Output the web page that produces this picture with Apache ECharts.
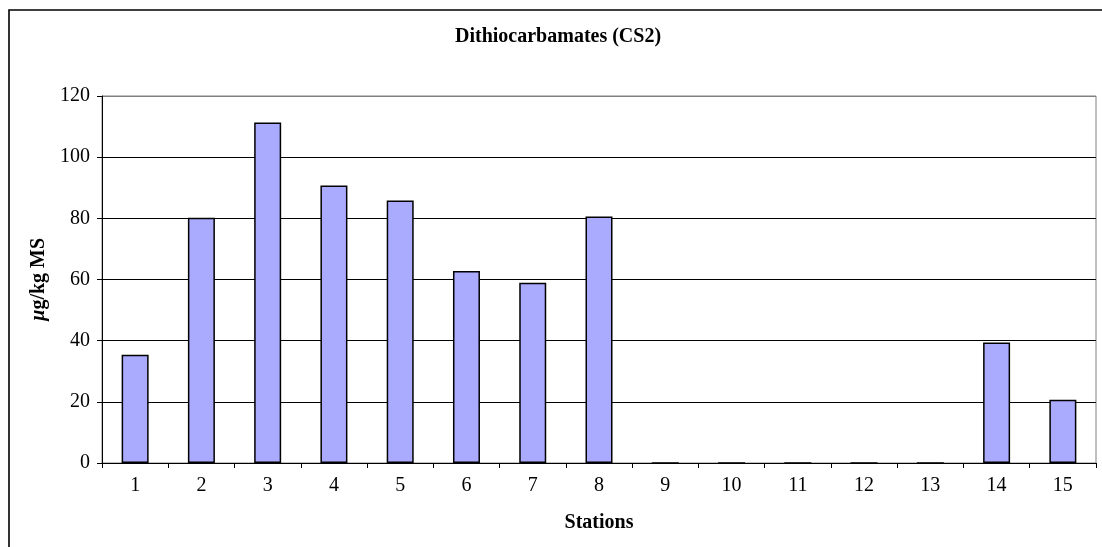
<!DOCTYPE html>
<html>
<head>
<meta charset="utf-8">
<title>Dithiocarbamates (CS2)</title>
<script src="https://cdn.jsdelivr.net/npm/echarts@6/dist/echarts.min.js"></script>
<style>
  html, body { margin: 0; padding: 0; background: #fff; }
  #chart { width: 1102px; height: 547px; }
</style>
</head>
<body>
<div id="chart"></div>
<script>
// Stations along the x axis
const stations = ['1', '2', '3', '4', '5', '6', '7', '8', '9', '10', '11', '12', '13', '14', '15'];
// Dithiocarbamates measured as CS2, µg/kg dry matter
const cs2Values = [35.4, 80.2, 111.3, 90.7, 85.8, 62.8, 58.9, 80.6, 0, 0, 0, 0, 0, 39.4, 20.7];
// Value axis range
const yMin = 0;
const yMax = 120;
const yStep = 20;

const serif = 'Liberation Serif, Times New Roman, serif';
const chart = echarts.init(document.getElementById('chart'), null, { renderer: 'canvas' });

chart.setOption({
  animation: false,
  backgroundColor: '#ffffff',
  title: {
    text: 'Dithiocarbamates (CS2)',
    left: 455,
    top: 27,
    padding: 0,
    textStyle: { fontFamily: serif, fontSize: 20, fontWeight: 'bold', color: '#000' }
  },
  graphic: [{
    type: 'rect',
    shape: { x: 9, y: 10, width: 1120, height: 600 },
    style: { fill: null, stroke: '#000', lineWidth: 1.6 },
    silent: true,
    z: 0
  }],
  grid: {
    left: 102, right: 6, top: 96, bottom: 84,
    show: true, borderColor: '#808080', borderWidth: 1, backgroundColor: 'transparent'
  },
  xAxis: {
    type: 'category',
    data: stations,
    name: 'Stations',
    nameLocation: 'middle',
    nameGap: 50,
    nameTextStyle: { fontFamily: serif, fontSize: 20, fontWeight: 'bold', color: '#000' },
    axisLine: { lineStyle: { color: '#000', width: 1 } },
    axisTick: { show: true, length: 5, lineStyle: { color: '#000' } },
    axisLabel: { fontFamily: serif, fontSize: 20, color: '#000', margin: 13 },
    splitLine: { show: false }
  },
  yAxis: {
    type: 'value',
    min: yMin,
    max: yMax,
    interval: yStep,
    name: '{mu|µ}g/kg MS',
    nameLocation: 'middle',
    nameRotate: 90,
    nameGap: 52,
    nameTextStyle: {
      fontFamily: serif, fontSize: 20, fontWeight: 'bold', color: '#000',
      rich: {
        mu: { fontFamily: serif, fontSize: 20, fontWeight: 'bold', fontStyle: 'italic', color: '#000' }
      }
    },
    axisLine: { show: true, lineStyle: { color: '#000', width: 1 } },
    axisTick: { show: true, length: 5, lineStyle: { color: '#000' } },
    axisLabel: { fontFamily: serif, fontSize: 20, color: '#000', margin: 12 },
    splitLine: {
      show: true,
      lineStyle: { color: ['#000', '#000', '#000', '#000', '#000', '#000', '#808080'], width: 1 }
    }
  },
  series: [{
    type: 'bar',
    data: cs2Values,
    barWidth: 27,
    itemStyle: { color: '#AAAAFF', borderColor: '#000', borderWidth: 1.5 },
    emphasis: { disabled: true }
  }]
});
</script>
</body>
</html>
